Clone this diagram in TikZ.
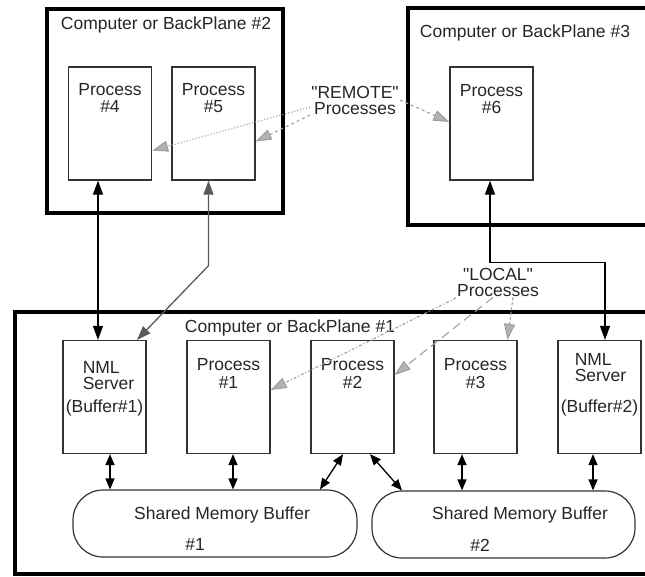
\documentclass[tikz,border=0pt]{standalone}
\usepackage{fontspec}
\setmainfont{Liberation Sans}
\usetikzlibrary{arrows.meta}

\tikzset{
  frame/.style={draw, line width=4.5pt},
  procbox/.style={draw=black!80, line width=1.3pt, minimum width=83pt,
    minimum height=113pt, inner sep=0pt},
  bufbox/.style={draw=black!80, line width=1.2pt, rounded corners=30pt,
    minimum height=67pt, inner sep=0pt},
  txt/.style={font=\fontsize{17.5}{18}\selectfont, text=black!85, inner sep=1pt, align=center},
  link/.style={line width=1.3pt, {Triangle[length=14pt,width=10pt]}-{Triangle[length=14pt,width=10pt]}},
  dbl/.style={line width=1.3pt, {Triangle[length=11pt,width=9pt]}-{Triangle[length=11pt,width=9pt]}},
  remark/.style={draw=gray!75, line width=1.1pt, -{Triangle[length=16pt,width=11pt,fill=gray!60]}}
}

\begin{document}
\begin{tikzpicture}[x=1pt,y=-1pt]
\clip (0,0) rectangle (645,576);

% the three machines
\draw[frame] (47,9) rectangle (283,213);
\draw[frame] (408,8) rectangle (670,225);
\draw[frame] (15,312) rectangle (670,574);

\node[txt] (title2) at (166,25) {Computer or BackPlane \#2};
\node[txt] (title3) at (525,33) {Computer or BackPlane \#3};
\node[txt] (title1) at (290,328) {Computer or BackPlane \#1};

% processes
\node[procbox] (p4) at (110,123.5) {};
\node[procbox] (p5) at (213.5,123.5) {};
\node[procbox] (p6) at (491.5,123.5) {};
\node[procbox] (nml1) at (104.5,397) {};
\node[procbox] (p1) at (228.5,397) {};
\node[procbox] (p2) at (352.5,397) {};
\node[procbox] (p3) at (475.5,397) {};
\node[procbox] (nml2) at (599.5,397) {};

\node[txt] (t4) at ([yshift=-32pt]p4.north) {Process\\[-1pt]\#4};
\node[txt] (t5) at ([yshift=-32pt]p5.north) {Process\\[-1pt]\#5};
\node[txt] (t6) at ([yshift=-33pt]p6.north) {Process\\[-1pt]\#6};
\node[txt] (t1) at ([yshift=-34pt]p1.north) {Process\\\#1};
\node[txt] (t2) at ([yshift=-34pt]p2.north) {Process\\\#2};
\node[txt] (t3) at ([yshift=-34pt]p3.north) {Process\\\#3};
\node[txt, align=left] (tn1) at ([yshift=-49pt]nml1.north)
  {\hspace*{17pt}NML\\[-2pt]\hspace*{17pt}Server\\[5pt](Buffer\#1)};
\node[txt, align=left] (tn2) at ([yshift=-45pt]nml2.north)
  {\hspace*{14pt}NML\\[-2pt]\hspace*{14pt}Server\\[13pt](Buffer\#2)};

% shared memory
\node[bufbox, minimum width=284pt] (buf1) at (215,523.5) {};
\node[bufbox, minimum width=263pt] (buf2) at (503.5,524.5) {};
\node[txt] (bt1) at (222,515) {Shared Memory Buffer};
\node[txt] (bn1) at (195,544) {\#1};
\node[txt] (bt2) at (520,515) {Shared Memory Buffer};
\node[txt] (bn2) at (480,545) {\#2};

% remote links
\draw[link] ([xshift=-12pt]p4.south) -- ([xshift=-6.5pt]nml1.north);
\draw[link, draw=black!65]
  ([xshift=-5pt]p5.south) -- ++(0,85) -- ([xshift=32.5pt]nml1.north);
\draw[link] ([xshift=-1.5pt]p6.south) -- ++(0,82) -| ([xshift=5.5pt]nml2.north);

% buffer access
\draw[dbl] ([xshift=5.5pt]nml1.south) -- ([xshift=5.5pt]nml1.south |- buf1.north);
\draw[dbl] ([xshift=4.5pt]p1.south) -- ([xshift=4.5pt]p1.south |- buf1.north);
\draw[dbl] ([xshift=-9.5pt]p2.south) -- ([xshift=105pt]buf1.north);
\draw[dbl] ([xshift=17.5pt]p2.south) -- ([xshift=-101.5pt]buf2.north);
\draw[dbl] ([xshift=-13.5pt]p3.south) -- ([xshift=-13.5pt]p3.south |- buf2.north);
\draw[dbl] ([xshift=-6.5pt]nml2.south) -- ([xshift=-6.5pt]nml2.south |- buf2.north);

% "REMOTE" and "LOCAL" remarks
\node[txt] (remote) at (355,100) {\textquotedbl REMOTE\textquotedbl\\[-2pt]Processes};
\node[txt] (local) at (498,282) {\textquotedbl LOCAL\textquotedbl\\[-2pt]Processes};

\draw[remark, dotted] ([yshift=-7pt]remote.west) -- ([yshift=-27pt]p4.east);
\draw[remark, dashed] ([yshift=-15pt]remote.west) -- ([yshift=-18pt]p5.east);
\draw[remark, dashed] (remote.east) -- ([yshift=1.5pt]p6.west);
\draw[remark, dash dot] ([yshift=-16pt]local.west) -- ([yshift=7pt]p1.east);
\draw[remark, dash pattern=on 9pt off 5pt] ([xshift=-5pt]local.south) -- ([yshift=22pt]p2.east);
\draw[remark, densely dashed] ([xshift=15pt]local.south) -- ([xshift=32pt]p3.north);
\end{tikzpicture}
\end{document}
